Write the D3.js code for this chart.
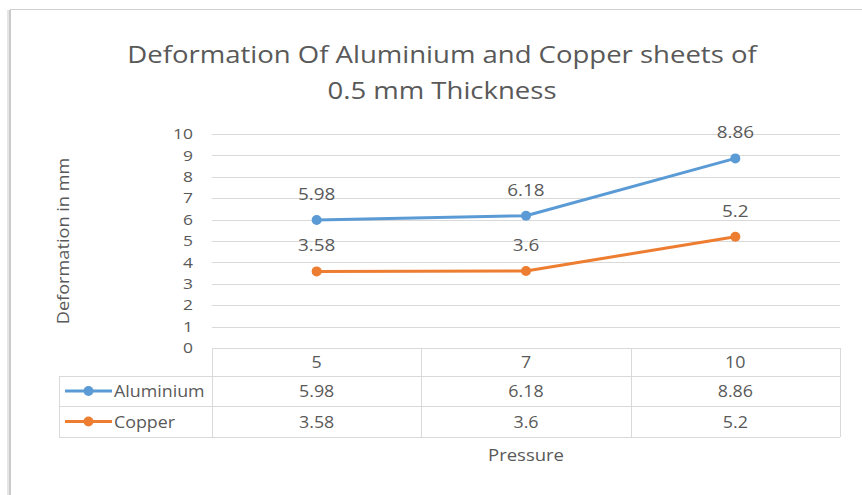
<!DOCTYPE html>
<html><head><meta charset="utf-8">
<script src="https://cdn.jsdelivr.net/npm/d3@7"></script>
<style>body{margin:0;background:#fff;}svg{display:block;font-family:"Open Sans",sans-serif;}</style>
</head><body>
<svg id="chart" width="862" height="495"></svg>
<script>
const categories = ["5", "7", "10"];
const seriesNames = ["Aluminium", "Copper"];
const aluminium = [5.98, 6.18, 8.86];
const copper = [3.58, 3.6, 5.2];
const yTicks = [0,1,2,3,4,5,6,7,8,9,10];
const titleLines = ["Deformation Of Aluminium and Copper sheets of", "0.5 mm Thickness"];
const yTitle = "Deformation in mm";
const xTitle = "Pressure";
const colors = ["#5b9bd5", "#ed7d31"];

(function(){
const series = [aluminium, copper];
const svg = d3.select("#chart");
const txt = "#595959", grid = "#d9d9d9";
// widen glyphs horizontally to mimic the reference face
function stretch(sel, k) {
  sel.each(function(){
    const w = this.getComputedTextLength();
    d3.select(this).attr("textLength", w * k).attr("lengthAdjust", "spacingAndGlyphs");
  });
}

// chart frame
svg.append("rect").attr("x",7).attr("y",10).attr("width",4).attr("height",490).attr("fill","#e6e6e6");
svg.append("line").attr("x1",10).attr("x2",10).attr("y1",10).attr("y2",495).attr("stroke","#bfbfbf").attr("stroke-width",1.5);
svg.append("line").attr("x1",10).attr("x2",862).attr("y1",9.5).attr("y2",9.5).attr("stroke","#d0d0d0").attr("stroke-width",1);

const pl = 212, pr = 840, pt = 134, pb = 348;
const x = d3.scaleBand().domain(categories).range([pl, pr]);
const y = d3.scaleLinear().domain([0, 10]).range([pb, pt]);

// title
svg.append("g").selectAll("text").data(titleLines).join("text")
  .attr("x", 442).attr("y", (d,i)=> 63 + i*36)
  .attr("text-anchor","middle").attr("fill", txt).attr("font-size", 24)
  .text(d=>d).call(stretch, 1.146);

// gridlines
svg.append("g").selectAll("line").data(yTicks.filter(t=>t>0)).join("line")
  .attr("x1", pl).attr("x2", pr)
  .attr("y1", d=>Math.round(y(d))+0.5).attr("y2", d=>Math.round(y(d))+0.5)
  .attr("stroke", grid).attr("stroke-width",1);

// y axis
const yAxis = d3.axisLeft(y).tickValues(yTicks).tickSize(0).tickPadding(0);
const yg = svg.append("g").attr("transform", `translate(${193},0)`).call(yAxis);
yg.select(".domain").remove();
yg.selectAll("text").attr("fill", txt).attr("font-size", 14.5).attr("font-family","Open Sans").call(stretch, 1.2);

svg.append("text").attr("transform","translate(69,241) rotate(-90)")
  .attr("text-anchor","middle").attr("fill",txt).attr("font-size",16.5).text(yTitle).call(stretch, 1.1);

// lines
const line = d3.line().x((d,i)=>x(categories[i]) + x.bandwidth()/2).y(d=>y(d));
series.forEach((s, si) => {
  svg.append("path").datum(s).attr("d", line).attr("fill","none")
    .attr("stroke", colors[si]).attr("stroke-width", 3).attr("stroke-linejoin","round");
  svg.append("g").selectAll("circle").data(s).join("circle")
    .attr("cx",(d,i)=>x(categories[i]) + x.bandwidth()/2).attr("cy", d=>y(d))
    .attr("r", 5).attr("fill", colors[si]);
  svg.append("g").selectAll("text").data(s).join("text")
    .attr("x",(d,i)=>x(categories[i]) + x.bandwidth()/2).attr("y", d=>y(d) - 20)
    .attr("text-anchor","middle").attr("fill", txt).attr("font-size", 16)
    .text(d=>d).call(stretch, 1.18);
});

// data table
const rowTops = [348, 376, 406, 437];
const tableLeft = 59;
const tg = svg.append("g").attr("stroke", grid).attr("stroke-width",1).attr("fill","none");
tg.append("line").attr("x1",pl).attr("x2",pr).attr("y1",rowTops[0]+0.5).attr("y2",rowTops[0]+0.5);
[1,2,3].forEach(i => tg.append("line").attr("x1",tableLeft).attr("x2",pr).attr("y1",rowTops[i]+0.5).attr("y2",rowTops[i]+0.5));
const colEdges = [pl].concat(categories.map(c => x(c) + x.bandwidth()));
colEdges.forEach(cx => tg.append("line").attr("x1",Math.round(cx)+0.5).attr("x2",Math.round(cx)+0.5)
  .attr("y1", rowTops[0]).attr("y2", rowTops[3]));
tg.append("line").attr("x1",tableLeft+0.5).attr("x2",tableLeft+0.5).attr("y1",rowTops[1]).attr("y2",rowTops[3]);

svg.append("g").selectAll("text").data(categories).join("text")
  .attr("x", d=>x(d)+x.bandwidth()/2).attr("y", (rowTops[0]+rowTops[1])/2 + 6)
  .attr("text-anchor","middle").attr("fill",txt).attr("font-size",15.5).text(d=>d).call(stretch, 1.15);

series.forEach((s, si) => {
  const cy = (rowTops[si+1] + rowTops[si+2]) / 2;
  svg.append("g").selectAll("text").data(s).join("text")
    .attr("x",(d,i)=>x(categories[i]) + x.bandwidth()/2).attr("y", cy + 6)
    .attr("text-anchor","middle").attr("fill",txt).attr("font-size",15.5).text(d=>d).call(stretch, 1.15);
  svg.append("line").attr("x1",65).attr("x2",112).attr("y1",cy).attr("y2",cy)
    .attr("stroke",colors[si]).attr("stroke-width",3);
  svg.append("circle").attr("cx",88.5).attr("cy",cy).attr("r",5).attr("fill",colors[si]);
  svg.append("text").attr("x",114).attr("y",cy+6).attr("fill",txt).attr("font-size",15.5)
    .text(seriesNames[si]).call(stretch, 1.15);
});

svg.append("text").attr("x", 526).attr("y", 461).attr("text-anchor","middle")
  .attr("fill",txt).attr("font-size",16.5).text(xTitle).call(stretch, 1.12);
})();
</script>
</body></html>
